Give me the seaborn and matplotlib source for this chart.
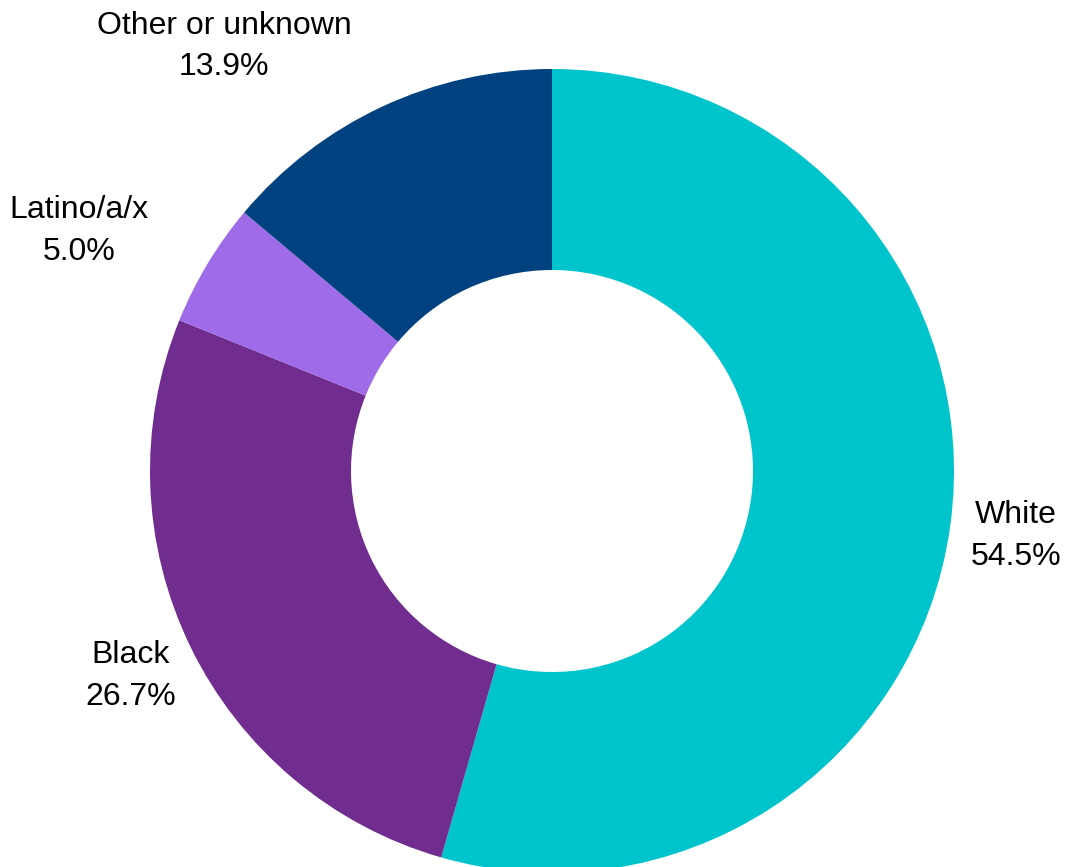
import numpy as np
import matplotlib
matplotlib.use("Agg")
import matplotlib.pyplot as plt
import seaborn as sns

# =========================
# DATA
# =========================

categories = ["White", "Black", "Latino/a/x", "Other or unknown"]
shares = [54.5, 26.7, 5.0, 13.9]
colors = ["#00C4CC", "#702C8E", "#A06BE8", "#00417F"]

sns.set_theme(style="white")
plt.rcParams["font.family"] = ["Liberation Sans", "DejaVu Sans"]

# =========================
# FIGURE
# =========================

fig = plt.figure(figsize=(10.68, 8.67), dpi=100)
ax = fig.add_axes([0, 0, 1, 1])

wedges, _ = ax.pie(
    shares,
    colors=colors,
    startangle=90,
    counterclock=False,
    radius=1.0,
    wedgeprops=dict(width=0.5, edgecolor="none"),
)

# label placement (distance from centre, extra angle shift in degrees)
label_dist = [1.165, 1.165, 1.32, 1.334]
label_shift = [0, 0, 4.1, 12.7]

for w, name, val, d, s in zip(wedges, categories, shares, label_dist, label_shift):
    ang = np.deg2rad((w.theta1 + w.theta2) / 2 + s)
    ax.text(d * np.cos(ang), d * np.sin(ang), f"{name}\n{val:.1f}%",
            ha="center", va="center", fontsize=23, color="black",
            linespacing=1.5)

# centre at pixel (552, 471), radius 402 px
ax.set_xlim(-552 / 402, (1068 - 552) / 402)
ax.set_ylim(-(867 - 471) / 402, 471 / 402)
ax.set_aspect("auto")
ax.axis("off")

fig.savefig("out.png", dpi=100)
plt.close()
